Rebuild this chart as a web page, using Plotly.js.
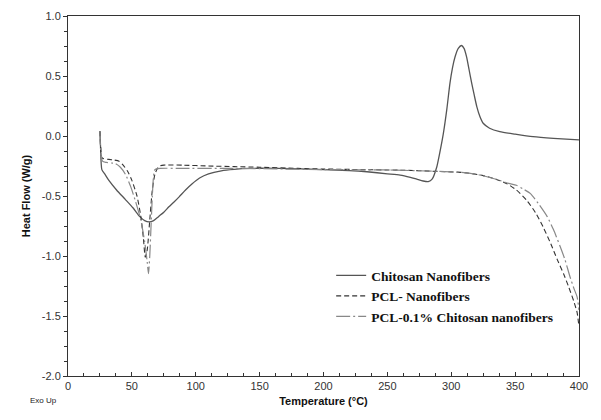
<!DOCTYPE html>
<html>
<head>
<meta charset="utf-8">
<script src="https://cdn.plot.ly/plotly-3.0.1.min.js"></script>
<style>
  html, body { margin: 0; padding: 0; background: #fff; }
  #chart { width: 601px; height: 420px; }
</style>
</head>
<body>
<div id="chart"></div>
<script>
// DSC curves: temperature (°C) vs heat flow (W/g)
const chitosanT = [25, 25.5, 26.5, 29, 32, 38, 45, 51, 56, 60, 63.5, 67, 71, 75, 79, 83, 87, 92, 97, 103, 110, 120, 130, 142, 165, 200, 220, 234, 250, 260, 268, 273, 278, 282, 285, 288.6, 291, 293.8, 296.5, 299, 301, 303, 305.5, 308, 310, 312, 314, 316, 318, 320, 322.5, 325, 330, 338, 350, 364, 380, 400];
const chitosanHF = [0.04, -0.1, -0.28, -0.32, -0.37, -0.45, -0.53, -0.6, -0.67, -0.705, -0.716, -0.705, -0.67, -0.635, -0.59, -0.55, -0.507, -0.45, -0.4, -0.35, -0.315, -0.29, -0.278, -0.27, -0.27, -0.28, -0.288, -0.298, -0.315, -0.326, -0.345, -0.36, -0.375, -0.38, -0.36, -0.26, -0.14, 0.02, 0.22, 0.44, 0.57, 0.66, 0.73, 0.754, 0.73, 0.66, 0.55, 0.44, 0.34, 0.245, 0.16, 0.106, 0.065, 0.036, 0.015, -0.006, -0.02, -0.033];

const pclT = [25, 25.5, 26.5, 28, 32, 36, 40, 43, 47, 50, 54, 57, 59, 60.5, 62, 64, 66, 68, 70, 72, 75, 90, 110, 130, 150, 180, 200, 230, 260, 290, 310, 325, 335, 344, 351, 359, 366, 372, 378, 383, 388, 392, 396, 398.5, 400];
const pclHF = [0.04, -0.08, -0.18, -0.19, -0.195, -0.2, -0.21, -0.24, -0.3, -0.37, -0.5, -0.67, -0.85, -1.01, -0.95, -0.7, -0.45, -0.32, -0.27, -0.25, -0.243, -0.243, -0.25, -0.255, -0.26, -0.27, -0.275, -0.28, -0.285, -0.295, -0.305, -0.33, -0.36, -0.4, -0.45, -0.535, -0.64, -0.76, -0.9, -1.03, -1.15, -1.26, -1.38, -1.47, -1.59];

const blendT = [25, 25.5, 27, 30, 34, 37, 41, 45, 49, 53, 57, 60, 62, 63, 64, 65, 66, 67, 68, 72, 90, 120, 150, 200, 250, 290, 310, 323, 335, 345, 351, 356, 362, 368, 375, 380, 385.4, 389, 393, 396, 398.5, 400];
const blendHF = [0.04, -0.1, -0.21, -0.22, -0.225, -0.23, -0.26, -0.32, -0.42, -0.55, -0.7, -0.88, -1.05, -1.147, -1.0, -0.75, -0.5, -0.33, -0.28, -0.27, -0.27, -0.27, -0.272, -0.28, -0.283, -0.295, -0.305, -0.326, -0.36, -0.395, -0.41, -0.44, -0.48, -0.56, -0.67, -0.78, -0.925, -1.03, -1.175, -1.27, -1.34, -1.45];

const seriesNames = ['Chitosan Nanofibers', 'PCL- Nanofibers', 'PCL-0.1% Chitosan nanofibers'];

const yTickVals = [1, 0.5, 0, -0.5, -1, -1.5, -2];
const yTickText = ['1.0', '0.5', '0.0', '-0.5', '-1.0', '-1.5', '-2.0'];
const xTickVals = [0, 50, 100, 150, 200, 250, 300, 350, 400];

const traces = [
  {
    x: chitosanT, y: chitosanHF, name: seriesNames[0],
    mode: 'lines', line: { color: '#555555', width: 1.3, shape: 'spline', smoothing: 0.6 }
  },
  {
    x: pclT, y: pclHF, name: seriesNames[1],
    mode: 'lines', line: { color: '#333333', width: 1.1, dash: '5px,3px', shape: 'spline', smoothing: 0.6 }
  },
  {
    x: blendT, y: blendHF, name: seriesNames[2],
    mode: 'lines', line: { color: '#888888', width: 1.2, dash: '14px,3px,2px,3px', shape: 'spline', smoothing: 0.6 }
  }
];

const axisFont = { family: 'Arial, "Liberation Sans", sans-serif', size: 11, color: '#333' };

const layout = {
  width: 601,
  height: 420,
  margin: { l: 68, r: 22, t: 16, b: 44 },
  paper_bgcolor: '#fff',
  plot_bgcolor: '#fff',
  showlegend: true,
  legend: {
    x: 0.515, y: 0.322, xanchor: 'left', yanchor: 'top',
    bgcolor: 'rgba(0,0,0,0)',
    font: { family: '"Liberation Serif", "Times New Roman", serif', size: 13.5, color: '#111', weight: 'bold' },
    tracegroupgap: 0
  },
  xaxis: {
    range: [0, 400],
    tickvals: xTickVals,
    ticks: 'inside', ticklen: 4, tickcolor: '#333',
    minor: { dtick: 12.5, ticks: 'inside', ticklen: 3, tickcolor: '#333' },
    showgrid: false, zeroline: false,
    showline: true, linecolor: '#333', linewidth: 1, mirror: true,
    tickfont: axisFont,
    title: { text: '<b>Temperature (°C)</b>', font: { family: 'Arial, sans-serif', size: 11, color: '#111' }, standoff: 6 }
  },
  yaxis: {
    range: [-2, 1],
    tickvals: yTickVals, ticktext: yTickText,
    ticks: 'outside', ticklen: 4, tickcolor: '#333',
    minor: { dtick: 0.125, ticks: 'outside', ticklen: 3, tickcolor: '#333' },
    showgrid: false, zeroline: false,
    showline: true, linecolor: '#333', linewidth: 1, mirror: true,
    tickfont: axisFont,
    title: { text: '<b>Heat Flow (W/g)</b>', font: { family: 'Arial, sans-serif', size: 11, color: '#111' }, standoff: 8 }
  },
  annotations: [
    {
      text: 'Exo Up', xref: 'paper', yref: 'paper', x: -0.047, y: -0.069,
      xanchor: 'center', yanchor: 'middle',
      showarrow: false, font: { family: 'Arial, sans-serif', size: 8, color: '#222' }
    }
  ]
};

Plotly.newPlot('chart', traces, layout, { displayModeBar: false, staticPlot: true });
</script>
</body>
</html>
